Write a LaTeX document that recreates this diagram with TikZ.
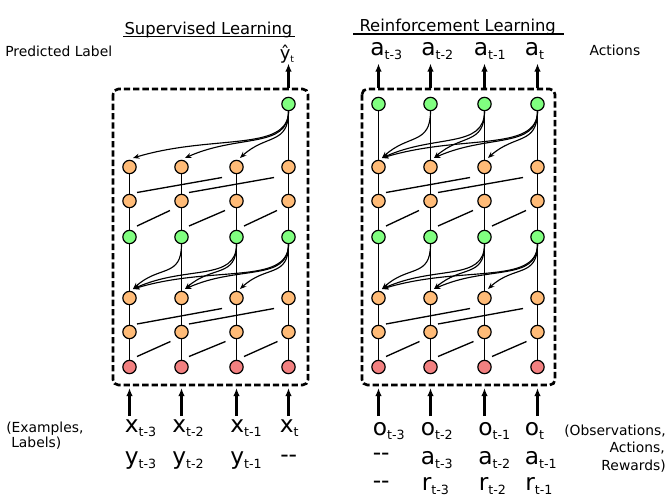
\documentclass[tikz,border=0pt]{standalone}
\usepackage{fontspec}
\setmainfont{DejaVu Sans}
\usetikzlibrary{arrows.meta}
\definecolor{ngreen}{HTML}{80FF80}
\definecolor{norange}{HTML}{FFBB77}
\definecolor{nred}{HTML}{F28080}
\newcommand\bsym[2]{{\fontsize{17.5pt}{20pt}\selectfont #1}{\fontsize{9.5pt}{11pt}\selectfont\raisebox{-3pt}{#2}}}
\newcommand\dsh{{\fontsize{17.5pt}{20pt}\selectfont -\kern0pt-}}
\newcommand\attnarrow[3]{%
  \pgfmathsetmacro\attdy{30+0.07*#3}%
  \pgfmathsetmacro\attdx{0.5*#3}%
  \draw[attn] (#1.south) .. controls +(0,\attdy) and +(\attdx,-24) .. ([shift={(3.5,-9)}]#2.center);}
\tikzset{
  unit/.style={circle, draw=black, line width=0.9pt, minimum size=10pt, inner sep=0pt},
  gnode/.style={unit, fill=ngreen},
  onode/.style={unit, fill=norange},
  rnode/.style={unit, fill=nred},
  link/.style={line width=1pt},
  attn/.style={line width=0.85pt, -{Stealth[length=4.8pt,width=3.8pt]}},
  io/.style={line width=1.7pt, -{Latex[length=6pt,width=4.8pt]}},
  frame/.style={line width=2pt, dash pattern=on 4.8pt off 2.2pt, rounded corners=4pt},
  txt/.style={anchor=base west, inner sep=0pt, font=\fontsize{10.4pt}{12.5pt}\selectfont},
  txtr/.style={anchor=base east, inner sep=0pt, font=\fontsize{10.4pt}{12.5pt}\selectfont},
  ttl/.style={anchor=base west, inner sep=0pt, font=\fontsize{12.3pt}{14pt}\selectfont},
  sym/.style={anchor=base west, inner sep=0pt},
}
\begin{document}
\begin{tikzpicture}[x=0.75pt,y=-0.75pt]
\useasboundingbox (0,0) rectangle (672,500);

% frames
\draw[frame] (113,89) rectangle (308,385);
\draw[frame] (362,89) rectangle (555,385);
\coordinate (ftop) at (0,88);
\coordinate (fout) at (0,63.5);
\coordinate (fbot) at (0,388);
\coordinate (fin) at (0,416);

% nodes
\foreach \p/\xa/\xb/\xc/\xd in {L/129.5/181.5/236.5/288.5, R/378.5/430.5/484.5/537.5}{
  \foreach \c/\x in {1/\xa,2/\xb,3/\xc,4/\xd}{
    \node[onode] (\p-b-\c) at (\x,167) {};
    \node[onode] (\p-c-\c) at (\x,201) {};
    \node[gnode] (\p-d-\c) at (\x,237) {};
    \node[onode] (\p-e-\c) at (\x,298) {};
    \node[onode] (\p-f-\c) at (\x,332) {};
    \node[rnode] (\p-h-\c) at (\x,367) {};
  }
}
\node[gnode] (L-a-4) at (288.5,104) {};
\foreach \c/\x in {1/378.5,2/430.5,3/484.5,4/537.5}{
  \node[gnode] (R-a-\c) at (\x,104) {};
}

% vertical links
\foreach \p in {L,R}{
  \foreach \c in {1,...,4}{
    \draw[link] (\p-b-\c) -- (\p-c-\c);
    \draw[link] (\p-c-\c) -- (\p-d-\c);
    \draw[link] (\p-d-\c) -- (\p-e-\c);
    \draw[link] (\p-e-\c) -- (\p-f-\c);
    \draw[link] (\p-f-\c) -- (\p-h-\c);
  }
  % dilation 1
  \foreach \i/\j in {1/2,2/3,3/4}{
    \draw[link] ([shift={(7.5,-10.5)}]\p-h-\i.center) -- ([shift={(-11,9.5)}]\p-f-\j.center);
    \draw[link] ([shift={(7.5,-11)}]\p-d-\i.center) -- ([shift={(-11.5,9.5)}]\p-c-\j.center);
  }
  % dilation 2
  \foreach \i/\j in {1/3,2/4}{
    \draw[link] ([shift={(7.5,-8)}]\p-f-\i.center) -- ([shift={(-14.5,10.5)}]\p-e-\j.center);
    \draw[link] ([shift={(7.5,-8.5)}]\p-c-\i.center) -- ([shift={(-14.5,10.5)}]\p-b-\j.center);
  }
}
\draw[link] (L-a-4) -- (L-b-4);
\foreach \c in {1,...,4}{ \draw[link] (R-a-\c) -- (R-b-\c); }

% attention curves
\attnarrow{L-a-4}{L-b-1}{159}
\attnarrow{L-a-4}{L-b-2}{107}
\attnarrow{L-a-4}{L-b-3}{52}
\foreach \p in {L,R}{
  \attnarrow{\p-d-2}{\p-e-1}{52}
  \attnarrow{\p-d-3}{\p-e-1}{107}
  \attnarrow{\p-d-3}{\p-e-2}{55}
  \attnarrow{\p-d-4}{\p-e-1}{159}
  \attnarrow{\p-d-4}{\p-e-2}{107}
  \attnarrow{\p-d-4}{\p-e-3}{52}
}
\attnarrow{R-a-2}{R-b-1}{52}
\attnarrow{R-a-3}{R-b-1}{106}
\attnarrow{R-a-3}{R-b-2}{54}
\attnarrow{R-a-4}{R-b-1}{159}
\attnarrow{R-a-4}{R-b-2}{107}
\attnarrow{R-a-4}{R-b-3}{53}

% output arrows
\draw[io] (L-a-4 |- ftop) -- (L-a-4 |- fout);
\foreach \c in {1,...,4}{ \draw[io] (R-a-\c |- ftop) -- (R-a-\c |- fout); }
% input arrows
\foreach \p in {L,R}{
  \foreach \c in {1,...,4}{ \draw[io] (\p-h-\c |- fin) -- (\p-h-\c |- fbot); }
}

% titles
\node[ttl] (tsl) at (124.3,34) {Supervised Learning};
\draw[line width=1.1pt] ([xshift=-0.8pt,yshift=-1.8pt]tsl.base west) -- ([xshift=2pt,yshift=-1.8pt]tsl.base east);
\node[ttl] (trl) at (359.3,31.7) {Reinforcement Learning};
\draw[line width=1.1pt] ([xshift=-4.5pt,yshift=-1.8pt]trl.base west) -- ([xshift=6pt,yshift=-1.8pt]trl.base east);

% side labels
\node[txt] (tpl) at (5,56.7) {Predicted Label};
\node[txt] (tact) at (589.3,55) {Actions};
\node[txt] (tex1) at (6,432) {(Examples,};
\node[txt] (tex2) at (11,447.5) {Labels)};
\node[txtr] (tob1) at (666,435) {(Observations,};
\node[txtr] (tob2) at (665,452.7) {Actions,};
\node[txtr] (tob3) at (666,470.7) {Rewards)};

% outputs
\node[sym] (yhat) at (279.5,59.3) {{\fontsize{13.5pt}{15pt}\selectfont ŷ}{\fontsize{7pt}{8pt}\selectfont\raisebox{-2.6pt}{t}}};
\node[sym] (oa1) at (370,55) {\bsym{a}{t-3}};
\node[sym] (oa2) at (421,55) {\bsym{a}{t-2}};
\node[sym] (oa3) at (473.5,55) {\bsym{a}{t-1}};
\node[sym] (oa4) at (524.5,55) {\bsym{a}{t}};

% SL inputs
\node[sym] (ix1) at (124.5,432) {\bsym{x}{t-3}};
\node[sym] (ix2) at (172,432) {\bsym{x}{t-2}};
\node[sym] (ix3) at (230,432) {\bsym{x}{t-1}};
\node[sym] (ix4) at (279.5,432) {\bsym{x}{t}};
\node[sym] (iy1) at (124.5,464) {\bsym{y}{t-3}};
\node[sym] (iy2) at (172,464) {\bsym{y}{t-2}};
\node[sym] (iy3) at (230,464) {\bsym{y}{t-1}};
\node[sym] (iy4) at (280,462) {\dsh};

% RL inputs
\node[sym] (io1) at (372.5,435) {\bsym{o}{t-3}};
\node[sym] (io2) at (420.5,435) {\bsym{o}{t-2}};
\node[sym] (io3) at (478,435) {\bsym{o}{t-1}};
\node[sym] (io4) at (524.5,435) {\bsym{o}{t}};
\node[sym] (ia1) at (372.5,460) {\dsh};
\node[sym] (ia2) at (420.5,464) {\bsym{a}{t-3}};
\node[sym] (ia3) at (478,464) {\bsym{a}{t-2}};
\node[sym] (ia4) at (524.5,464) {\bsym{a}{t-1}};
\node[sym] (ir1) at (372.5,488.5) {\dsh};
\node[sym] (ir2) at (421.5,490.7) {\bsym{r}{t-3}};
\node[sym] (ir3) at (478.5,490.7) {\bsym{r}{t-2}};
\node[sym] (ir4) at (525,490.7) {\bsym{r}{t-1}};
\end{tikzpicture}
\end{document}
